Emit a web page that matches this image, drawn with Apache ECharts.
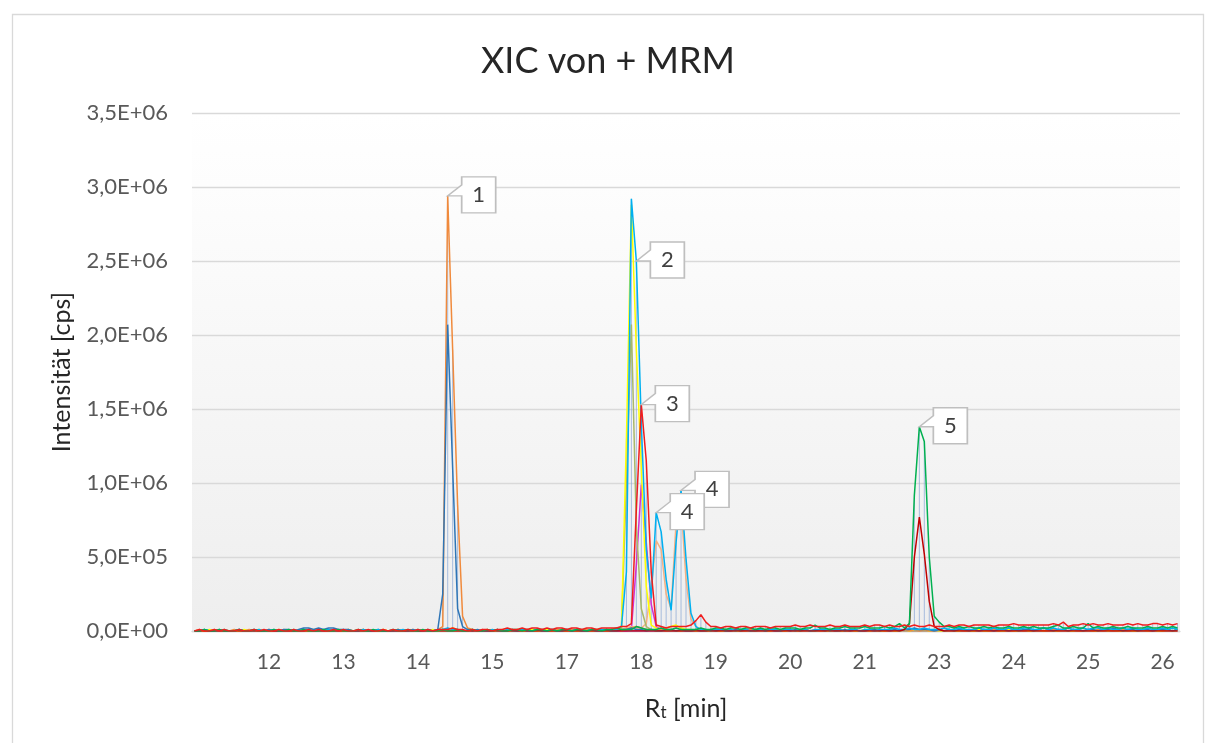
<!DOCTYPE html>
<html>
<head>
<meta charset="utf-8">
<title>XIC von + MRM</title>
<script src="https://cdn.jsdelivr.net/npm/echarts@6/dist/echarts.min.js"></script>
<style>
html, body { margin: 0; padding: 0; background: #fff; }
#chart { width: 1216px; height: 743px; }
</style>
</head>
<body>
<div id="chart"></div>
<script>
// Retentionszeit je Scan [min] (Kategorien der x-Achse)
var times = [
	11.00, 11.07, 11.13, 11.20, 11.27, 11.33, 11.40, 11.47, 11.53, 11.60, 11.67, 11.73, 11.80, 11.87, 11.93,
	12.00, 12.07, 12.13, 12.20, 12.27, 12.33, 12.40, 12.47, 12.53, 12.60, 12.67, 12.73, 12.80, 12.87, 12.93,
	13.00, 13.07, 13.13, 13.20, 13.27, 13.33, 13.40, 13.47, 13.53, 13.60, 13.67, 13.73, 13.80, 13.87, 13.93,
	14.00, 14.07, 14.13, 14.20, 14.27, 14.33, 14.40, 14.47, 14.53, 14.60, 14.67, 14.73, 14.80, 14.87, 14.93,
	15.00, 15.12, 15.25, 15.37, 15.49, 15.62, 15.74, 15.86, 15.99, 16.11, 16.23, 16.36, 16.48, 16.60, 16.73,
	16.85, 16.93, 17.01, 17.09, 17.17, 17.25, 17.33, 17.41, 17.49, 17.57, 17.65, 17.73, 17.81, 17.89, 17.97,
	18.05, 18.11, 18.18, 18.24, 18.30, 18.37, 18.43, 18.49, 18.56, 18.62, 18.68, 18.75, 18.81, 18.87, 18.94,
	19.00, 19.07, 19.13, 19.20, 19.27, 19.33, 19.40, 19.47, 19.53, 19.60, 19.67, 19.73, 19.80, 19.87, 19.93,
	20.00, 20.07, 20.13, 20.20, 20.27, 20.33, 20.40, 20.47, 20.53, 20.60, 20.67, 20.73, 20.80, 20.87, 20.93,
	21.00, 21.20, 21.40, 21.60, 21.80, 22.00, 22.20, 22.35, 22.45, 22.55, 22.63, 22.71, 22.78, 22.85, 22.92,
	23.00, 23.07, 23.13, 23.20, 23.27, 23.33, 23.40, 23.47, 23.53, 23.60, 23.67, 23.73, 23.80, 23.87, 23.93,
	24.00, 24.07, 24.13, 24.20, 24.27, 24.33, 24.40, 24.47, 24.53, 24.60, 24.67, 24.73, 24.80, 24.87, 24.93,
	25.00, 25.07, 25.13, 25.20, 25.27, 25.33, 25.40, 25.47, 25.53, 25.60, 25.67, 25.73, 25.80, 25.87, 25.93,
	26.00, 26.07, 26.13, 26.20
];

// Intensitaeten in Einheiten von 1E+04 cps
var UNIT = 10000;

var blueTrace = [
	0,0,1,0,0,1,0,0,0,1,0,0,1,0,0,1,0,0,1,1,
	0,1,2,2,1,2,1,2,2,1,1,1,0,0,1,0,0,1,0,0,
	0,1,0,0,1,0,0,1,0,1,25,207,110,15,3,1,0,1,0,0,
	0,1,0,0,1,0,1,0,0,1,0,0,1,0,0,1,0,1,0,0,
	1,0,0,1,0,0,1,1,2,1,1,0,1,0,0,1,1,0,1,0,
	0,1,0,0,1,0,1,0,0,1,0,1,0,0,1,0,1,0,0,1,
	0,1,0,1,0,0,1,0,1,0,0,1,0,1,0,0,1,1,0,1,
	0,1,0,1,1,2,1,1,1,0,1,0,1,0,1,1,0,1,0,1,
	1,0,1,1,0,1,0,1,1,0,1,2,1,0,1,1,0,1,1,0,
	1,1,0,1,1,2,1,0,1,1,0,1,1,0,1,1,1,0,1
];
var orangeTrace = [
	0,1,0,0,1,0,0,0,1,0,0,1,0,0,0,1,0,0,1,0,
	0,0,1,0,0,1,0,0,1,0,0,1,0,0,1,0,0,0,1,0,
	0,1,0,0,1,0,0,1,0,1,3,294,190,85,10,2,1,0,1,0,
	0,1,0,0,1,0,0,1,0,0,1,0,0,1,0,0,1,0,0,1,
	0,0,1,0,0,1,0,1,2,3,2,1,1,0,1,0,1,0,0,1,
	0,1,0,0,1,0,0,1,0,1,0,0,1,0,1,0,0,1,0,0,
	1,0,0,1,0,1,0,0,1,0,1,0,0,1,0,0,1,0,1,0,
	0,1,0,1,0,1,0,1,0,0,1,0,1,0,1,0,0,1,0,1,
	0,1,0,1,0,0,1,0,1,0,1,0,0,1,0,1,0,1,0,0,
	1,0,1,0,1,0,0,1,0,1,0,1,0,0,1,0,1,0,1
];
var yellowTrace = [
	0,0,0,1,0,0,1,0,0,0,1,0,0,1,0,0,0,1,0,0,
	1,0,0,0,1,0,0,1,0,0,0,1,0,0,1,0,0,0,1,0,
	0,1,0,0,0,1,0,0,1,0,1,1,2,1,0,0,1,0,0,1,
	0,0,1,0,0,1,0,0,1,0,0,1,0,1,0,0,1,0,0,1,
	0,1,1,0,1,1,2,130,288,190,110,30,4,2,1,2,3,4,2,1,
	1,0,1,0,0,1,0,0,1,0,0,1,0,0,1,0,0,1,0,0,
	1,0,0,1,0,0,1,0,0,1,0,0,1,0,0,1,0,1,0,0,
	1,0,0,1,0,1,1,1,0,1,0,0,1,0,0,1,0,0,1,0,
	0,1,0,0,1,0,0,1,0,0,1,0,1,0,0,1,0,0,1,0,
	1,0,0,1,0,1,0,0,1,0,0,1,0,1,0,0,1,0,1
];
var cyanTrace = [
	0,0,1,0,0,0,1,0,0,1,0,0,0,1,0,0,1,0,0,0,
	1,0,0,1,0,0,0,1,0,0,1,0,0,0,1,0,0,1,0,0,
	0,0,1,0,0,1,0,0,0,1,1,2,1,1,0,0,1,0,0,0,
	1,0,0,1,0,0,1,0,0,1,0,0,1,0,0,1,0,1,0,0,
	1,0,1,1,0,1,3,40,292,250,140,55,22,80,67,35,14,60,95,49,
	12,3,1,1,0,1,1,0,1,0,1,1,0,1,1,0,1,1,0,1,
	1,0,1,1,0,1,1,1,0,1,1,0,1,1,0,1,1,0,1,1,
	1,2,1,1,2,1,1,2,1,1,1,2,1,1,2,1,1,1,2,1,
	1,2,1,1,2,1,1,2,2,1,1,2,1,2,1,1,2,1,1,2,
	1,2,2,1,2,1,1,2,1,2,1,1,2,1,1,2,1,2,1
];
var redTrace = [
	0,1,0,0,1,0,1,0,0,1,0,0,1,0,1,0,0,1,0,0,
	1,0,0,1,0,1,0,0,1,0,1,0,0,1,0,1,0,0,1,0,
	1,0,0,1,0,1,0,1,0,1,1,1,2,1,1,0,1,0,1,1,
	0,1,1,2,1,1,2,1,2,2,1,2,1,2,2,1,2,2,1,2,
	2,1,2,2,2,2,3,3,5,82,153,115,40,4,3,2,3,3,3,3,
	4,7,11,6,3,3,2,3,3,2,3,3,2,3,3,3,2,3,3,3,
	3,4,3,3,4,3,3,3,4,3,3,4,3,3,3,4,3,4,4,3,
	4,3,3,4,3,4,3,3,4,3,3,3,4,3,4,4,3,4,4,4,
	4,3,4,4,4,5,4,4,4,4,4,4,4,5,4,6,3,4,4,5,
	4,5,4,4,5,4,4,4,5,4,5,4,4,5,5,4,5,4,5
];
var magentaTrace = [
	0,0,0,0,0,0,0,0,0,0,0,0,0,0,0,0,0,0,0,0,
	0,0,0,0,0,0,0,0,0,0,0,0,0,0,0,0,0,0,0,0,
	0,0,0,0,0,0,0,0,0,0,0,0,0,0,0,0,0,0,0,0,
	0,0,0,0,0,0,0,0,0,0,0,0,0,0,0,0,0,0,0,0,
	0,0,0,0,0,0,0,0,1,45,99,60,18,3,1,0,0,0,0,0,
	0,0,0,0,0,0,0,0,0,0,0,0,0,0,0,0,0,0,0,0,
	0,0,0,0,0,0,0,0,0,0,0,0,0,0,0,0,0,0,0,0,
	0,0,0,0,0,0,0,0,0,0,0,0,0,0,0,0,0,0,0,0,
	0,0,0,0,0,0,0,0,0,0,0,0,0,0,0,0,0,0,0,0,
	0,0,0,0,0,0,0,0,0,0,0,0,0,0,0,0,0,0,0
];
var greenTrace = [
	0,0,1,0,0,1,0,0,0,1,0,0,1,0,0,0,1,0,0,1,
	0,0,1,0,0,0,1,0,0,1,0,0,0,1,0,0,1,0,0,0,
	1,0,0,1,0,0,1,0,0,0,1,0,0,1,0,0,1,0,0,1,
	0,1,0,0,1,1,0,1,0,1,1,0,1,0,1,1,0,1,1,0,
	1,1,0,1,1,2,1,1,1,3,2,1,1,1,2,1,1,2,1,1,
	1,1,2,1,1,2,2,1,2,2,1,2,2,1,2,1,2,2,1,2,
	2,2,1,2,2,4,2,2,1,2,2,3,2,2,2,3,2,2,2,3,
	2,3,5,2,5,92,138,128,50,10,6,3,3,2,3,2,3,2,2,3,
	2,3,2,2,3,2,2,3,2,3,2,2,2,3,4,2,2,3,2,2,
	5,2,3,2,2,3,2,2,3,2,2,2,3,2,2,3,2,3,2
];
var darkRedTrace = [
	0,0,0,0,0,0,0,0,0,0,0,0,0,0,0,0,0,0,0,0,
	0,0,0,0,0,0,0,0,0,0,0,0,0,0,0,0,0,0,0,0,
	0,0,0,0,0,0,0,0,0,0,0,0,0,0,0,0,0,0,0,0,
	0,0,0,0,0,0,0,0,0,0,0,0,0,0,0,0,0,0,0,0,
	0,0,0,0,0,0,0,0,0,0,0,0,0,0,0,0,0,0,0,0,
	0,0,0,0,0,0,0,0,0,0,0,0,0,0,0,0,0,0,0,0,
	0,0,0,0,0,0,0,0,0,0,0,0,0,0,0,0,0,0,0,0,
	0,0,0,1,5,50,77,52,20,3,1,0,0,0,0,0,0,0,0,0,
	0,0,0,0,0,0,0,0,0,0,0,0,0,0,0,0,0,0,0,0,
	0,0,0,0,0,0,0,0,0,0,0,0,0,0,0,0,0,0,0
];
var peachTrace = [
	0,0,0,0,0,0,0,0,0,0,0,0,0,0,0,0,0,0,0,0,
	0,0,0,0,0,0,0,0,0,0,0,0,0,0,0,0,0,0,0,0,
	0,0,0,0,0,0,0,0,0,0,0,0,0,0,0,0,0,0,0,0,
	0,0,0,0,0,0,0,0,0,0,0,0,0,0,0,0,0,0,0,0,
	0,0,0,1,0,1,1,2,3,2,2,5,30,61,55,25,15,73,86,35,
	8,3,1,0,1,0,0,1,0,0,1,0,0,1,0,0,0,1,0,0,
	0,0,0,0,0,0,0,0,0,0,0,0,0,0,0,0,0,0,0,0,
	0,0,0,0,0,0,0,0,0,0,0,0,0,0,0,0,0,0,0,0,
	0,0,0,0,0,0,0,0,0,0,0,0,0,0,0,0,0,0,0,0,
	0,0,0,0,0,0,0,0,0,0,0,0,0,0,0,0,0,0,0
];
var oliveTrace = [
	0,0,0,0,0,0,0,0,0,0,0,0,0,0,0,0,0,0,0,0,
	0,0,0,0,0,0,0,0,0,0,0,0,0,0,0,0,0,0,0,0,
	0,0,0,0,0,0,0,0,0,0,0,0,0,0,0,0,0,0,0,0,
	0,0,0,0,0,0,0,0,0,0,0,0,0,0,0,0,0,0,0,0,
	0,0,0,0,0,0,2,100,207,70,15,3,1,0,0,0,0,0,0,0,
	0,0,0,0,0,0,0,0,0,0,0,0,0,0,0,0,0,0,0,0,
	0,0,0,0,0,0,0,0,0,0,0,0,0,0,0,0,0,0,0,0,
	0,0,0,0,0,0,0,0,0,0,0,0,0,0,0,0,0,0,0,0,
	0,0,0,0,0,0,0,0,0,0,0,0,0,0,0,0,0,0,0,0,
	0,0,0,0,0,0,0,0,0,0,0,0,0,0,0,0,0,0,0
];
var purpleTrace = [
	0,0,0,0,0,0,0,0,0,0,0,0,0,0,0,0,0,0,0,0,
	0,0,0,0,0,0,0,0,0,0,0,0,0,0,0,0,0,0,0,0,
	0,0,0,0,0,0,0,0,0,0,0,0,0,0,0,0,0,0,0,0,
	0,0,0,0,0,0,0,0,0,0,0,0,0,0,0,0,0,0,0,0,
	0,0,0,0,0,0,0,0,0,0,0,0,0,0,0,0,0,0,0,0,
	0,0,0,0,0,0,0,0,0,0,0,0,0,0,0,0,0,0,0,0,
	0,0,0,0,0,0,0,0,0,0,0,0,0,0,0,0,0,0,0,0,
	0,0,0,0,0,0,0,0,0,0,0,0,0,0,0,0,0,0,0,0,
	0,0,0,0,0,0,0,0,0,0,0,0,0,0,0,0,0,0,0,0,
	0,0,0,0,0,0,0,0,0,0,0,0,0,0,0,0,0,0,0
];

// Peak-Nummern: [Spur, Scan-Index, Text]
var peakLabels = [
	[orangeTrace, 51, '1'],
	[cyanTrace, 89, '2'],
	[redTrace, 90, '3'],
	[cyanTrace, 98, '4'],
	[cyanTrace, 93, '4'],
	[greenTrace, 146, '5']
];

// Zeichenreihenfolge: spaetere Spuren liegen oben
var traces = [
	{ data: purpleTrace, color: '#9932cc' },
	{ data: magentaTrace, color: '#d22fd2' },
	{ data: peachTrace, color: '#f4b183' },
	{ data: oliveTrace, color: '#a9b86a' },
	{ data: yellowTrace, color: '#ffff00' },
	{ data: orangeTrace, color: '#f08a3c' },
	{ data: blueTrace, color: '#2e75b6' },
	{ data: cyanTrace, color: '#00b0f0' },
	{ data: darkRedTrace, color: '#c00000' },
	{ data: greenTrace, color: '#00b050' },
	{ data: redTrace, color: '#f01e1e' }
];

traces.forEach(function (t) {
	if (t.data.length !== times.length) {
		throw new Error('Laenge passt nicht: ' + t.color + ' ' + t.data.length);
	}
});

var FONT = 'Lato, "Open Sans", sans-serif';
// Sprechblase wie in Excel: Kasten mit Spitze links
var CALLOUT = 'path://M14,0 L48,0 L48,36 L14,36 L14,19 L0,19 L14,8 Z';

function toCps(arr) {
	return arr.map(function (v) { return v * UNIT; });
}

// Lotlinien (wie Excel): vom hoechsten Wert je Scan bis zur Achse
var dropLines = times.map(function (t, i) {
	var m = 0;
	traces.forEach(function (tr) { m = Math.max(m, tr.data[i]); });
	return m * UNIT;
});

function expLabel(v) {
	var s = v.toExponential(1).split('e');
	var e = parseInt(s[1], 10);
	return s[0].replace('.', ',') + 'E' + (e < 0 ? '-' : '+') + (Math.abs(e) < 10 ? '0' : '') + Math.abs(e);
}

var series = [{
	type: 'bar',
	data: dropLines,
	barWidth: 1,
	silent: true,
	itemStyle: { color: 'rgba(135,165,212,0.7)' },
	z: 1
}];

traces.forEach(function (t) {
	var marks = peakLabels.filter(function (p) { return p[0] === t.data; }).map(function (p) {
		return { name: p[2], coord: [p[1], p[0][p[1]] * UNIT] };
	});
	var s = {
		type: 'line',
		data: toCps(t.data),
		showSymbol: false,
		symbol: 'none',
		lineStyle: { color: t.color, width: 1.5 },
		itemStyle: { color: t.color },
		silent: true,
		z: 2
	};
	if (marks.length) {
		s.markPoint = {
			symbol: CALLOUT,
			symbolSize: [48, 36],
			symbolOffset: [24, -1],
			silent: true,
			itemStyle: { color: '#ffffff', borderColor: '#bfbfbf', borderWidth: 1.5 },
			label: {
				show: true,
				position: 'inside',
				offset: [7, 0],
				formatter: function (p) { return p.name; },
				color: '#404040',
				fontSize: 22,
				fontFamily: FONT
			},
			data: marks
		};
	}
	series.push(s);
});

var chart = echarts.init(document.getElementById('chart'));
chart.setOption({
	animation: false,
	backgroundColor: '#ffffff',
	title: {
		text: 'XIC von + MRM',
		left: 'center',
		top: 38,
		textStyle: { fontSize: 36, fontWeight: 'normal', color: '#262626', fontFamily: FONT }
	},
	graphic: [{
		type: 'rect',
		shape: { x: 12.5, y: 14.5, width: 1191, height: 760 },
		style: { fill: 'none', stroke: '#d9d9d9', lineWidth: 1.3 },
		silent: true
	}],
	grid: {
		left: 192,
		right: 36,
		top: 113,
		bottom: 112,
		show: true,
		borderWidth: 0,
		backgroundColor: {
			type: 'linear', x: 0, y: 0, x2: 0, y2: 1,
			colorStops: [
				{ offset: 0, color: '#ffffff' },
				{ offset: 0.14, color: '#fdfdfd' },
				{ offset: 1, color: '#eeeeee' }
			]
		}
	},
	xAxis: {
		type: 'category',
		data: times,
		boundaryGap: true,
		axisTick: { show: false },
		axisLine: { lineStyle: { color: '#d9d9d9', width: 1.3 } },
		axisLabel: {
			interval: function (i) { return i >= 15 && (i - 15) % 15 === 0; },
			formatter: function (v) { return String(Math.round(parseFloat(v))); },
			margin: 21,
			fontSize: 21,
			color: '#595959',
			fontFamily: FONT
		},
		name: '{r|R}{s|t}{r| [min]}',
		nameLocation: 'middle',
		nameGap: 58,
		nameTextStyle: {
			rich: {
				r: { fontSize: 25, fontFamily: FONT, color: '#262626', verticalAlign: 'bottom', lineHeight: 32 },
				s: { fontSize: 17, fontFamily: FONT, color: '#262626', verticalAlign: 'bottom', lineHeight: 15 }
			}
		}
	},
	yAxis: {
		type: 'value',
		min: 0,
		max: 3500000,
		interval: 500000,
		axisLine: { show: false },
		axisTick: { show: false },
		axisLabel: {
			formatter: expLabel,
			margin: 24,
			fontSize: 22,
			color: '#595959',
			fontFamily: FONT
		},
		splitLine: { lineStyle: { color: '#d9d9d9', width: 1.3 } },
		name: 'Intensität [cps]',
		nameLocation: 'middle',
		nameGap: 118,
		nameTextStyle: { fontSize: 25, color: '#262626', fontFamily: FONT }
	},
	series: series
});
</script>
</body>
</html>
